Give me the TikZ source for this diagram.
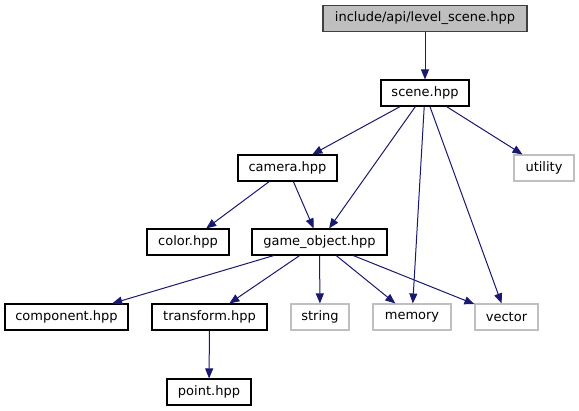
\documentclass[tikz,border=0pt]{standalone}
\usepackage{fontspec}
\setmainfont{DejaVu Sans}
\usetikzlibrary{arrows.meta}
\definecolor{edgeblue}{HTML}{191970}
\definecolor{extgrey}{HTML}{BFBFBF}
\definecolor{rootfill}{HTML}{BFBFBF}
\definecolor{rootline}{HTML}{404040}
\tikzset{
  filebox/.style={draw=black, fill=white, line width=1.1pt, minimum height=26pt, inner sep=0pt, font=\fontsize{13}{15}\selectfont},
  extbox/.style={filebox, draw=extgrey},
  rootbox/.style={filebox, draw=rootline, fill=rootfill},
  dep/.style={draw=edgeblue, line width=1pt, -{Triangle[length=10pt,width=8pt]}},
}
\begin{document}
\begin{tikzpicture}[x=1pt,y=-1pt]
\useasboundingbox (0,0) rectangle (579,411);
\node[rootbox, minimum width=204pt] (root) at (425,18.5) {include/api/level\_scene.hpp};
\node[filebox, minimum width=88pt] (scene) at (425,93) {scene.hpp};
\node[filebox, minimum width=99pt] (camera) at (287.5,168) {camera.hpp};
\node[extbox, minimum width=60pt] (utility) at (544,168) {utility};
\node[filebox, minimum width=82pt] (color) at (188,242) {color.hpp};
\node[filebox, minimum width=135pt] (game) at (319.5,242) {game\_object.hpp};
\node[filebox, minimum width=123pt] (component) at (66.5,317) {component.hpp};
\node[filebox, minimum width=115pt] (transform) at (209.5,317) {transform.hpp};
\node[extbox, minimum width=58pt] (string) at (320,317) {string};
\node[extbox, minimum width=78pt] (memory) at (412,317) {memory};
\node[extbox, minimum width=63pt] (vector) at (506.5,317) {vector};
\node[filebox, minimum width=84pt] (point) at (209,392) {point.hpp};

\draw[dep] (root) -- (scene);
\draw[dep] (scene) -- (camera);
\draw[dep] (scene) -- (game);
\draw[dep] (scene) -- (memory);
\draw[dep] (scene) -- (vector);
\draw[dep] (scene) -- (utility);
\draw[dep] (camera) -- (color);
\draw[dep] (camera) -- (game);
\draw[dep] (game) -- (component);
\draw[dep] (game) -- (transform);
\draw[dep] (game) -- (string);
\draw[dep] (game) -- (memory);
\draw[dep] (game) -- (vector);
\draw[dep] (transform) -- (point);
\end{tikzpicture}
\end{document}
